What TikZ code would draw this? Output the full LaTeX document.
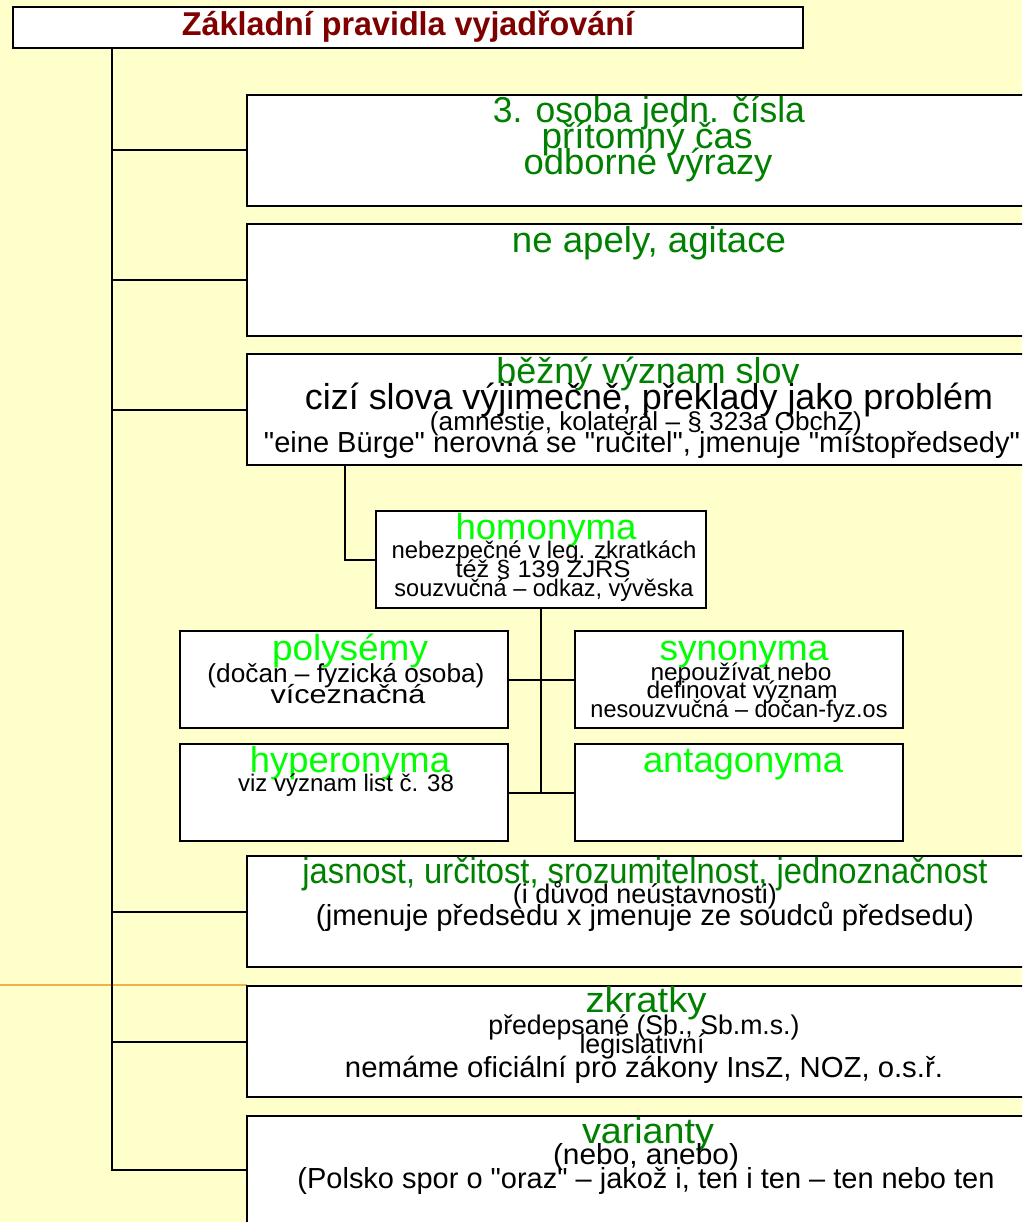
\documentclass[tikz,border=0pt]{standalone}
\usepackage{fontspec}
\setmainfont{Liberation Sans}
\usepackage{graphicx}
\definecolor{bgy}{HTML}{FFFFCC}
\definecolor{gD}{HTML}{008000}
\definecolor{gB}{HTML}{00FF00}
\definecolor{dR}{HTML}{800000}
\definecolor{orl}{HTML}{F4B040}
\newcommand\fitw[2]{\resizebox{#1pt}{\height}{#2}}
\newcommand\qq{\XeTeXglyph\XeTeXcharglyph"22\relax}
\tikzset{
  box/.style={draw=black, line width=2pt, fill=white, rectangle, inner sep=0pt},
  conn/.style={draw=black, line width=2pt},
  txt/.style={anchor=base, inner sep=0pt},
  fs/.style={font=\fontsize{#1}{#1}\selectfont},
}
\begin{document}
\begin{tikzpicture}[x=1pt,y=-1pt]
\useasboundingbox (0,0) rectangle (1022,1222);
\fill[bgy] (0,0) rectangle (1022,1222);
\clip (0,0) rectangle (1022,1222);
% orange divider
\draw[orl, line width=2pt] (0,985) -- (247,985);
% title
\node[box, minimum width=790pt, minimum height=41pt] (title) at (408,27.5) {};
% main boxes
\node[box, minimum width=802pt, minimum height=111pt] (b1) at (648,150.5) {};
\node[box, minimum width=802pt, minimum height=111pt] (b2) at (648,280) {};
\node[box, minimum width=802pt, minimum height=111pt] (b3) at (648,409.5) {};
\node[box, minimum width=802pt, minimum height=111pt] (b4) at (648,911.5) {};
\node[box, minimum width=802pt, minimum height=111pt] (b5) at (648,1041.5) {};
\node[box, minimum width=802pt, minimum height=108pt] (b6) at (648,1170) {};
% sub boxes
\node[box, minimum width=330pt, minimum height=97pt] (hom) at (541,559.5) {};
\node[box, minimum width=328pt, minimum height=97pt] (pol) at (344,679.5) {};
\node[box, minimum width=328pt, minimum height=97pt] (syn) at (739,679.5) {};
\node[box, minimum width=328pt, minimum height=97pt] (hyp) at (344,792.5) {};
\node[box, minimum width=328pt, minimum height=97pt] (ant) at (739,792.5) {};
% connectors
\coordinate (tr) at (112,48);
\draw[conn] (tr) |- (b6.west);
\draw[conn] (tr |- b1.west) -- (b1.west);
\draw[conn] (tr |- b2.west) -- (b2.west);
\draw[conn] (tr |- b3.west) -- (b3.west);
\draw[conn] (tr |- b4.west) -- (b4.west);
\draw[conn] (tr |- b5.west) -- (b5.west);
\coordinate (h0) at (345,465);
\draw[conn] (h0) |- (hom.west);
\draw[conn] (hom.south) -- (hom.south |- hyp.east);
\draw[conn] (pol.east) -- (syn.west);
\draw[conn] (hyp.east) -- (ant.west);
% title text
\node[txt, text=dR, font=\fontsize{33}{33}\selectfont\bfseries] (tt) at (408,36) {\fitw{452}{Základní pravidla vyjadřování}};
% box 1
\node[txt, fs=36, text=gD] (b1a) at (649,123) {\fitw{312}{3. osoba jedn. čísla}};
\node[txt, fs=36, text=gD] (b1b) at (647,149) {\fitw{211}{přítomný čas}};
\node[txt, fs=36, text=gD] (b1c) at (648,175) {\fitw{249}{odborné výrazy}};
% box 2
\node[txt, fs=36, text=gD] (b2a) at (649,253) {\fitw{274}{ne apely, agitace}};
% box 3
\node[txt, fs=36, text=gD] (b3a) at (648,383) {\fitw{303}{běžný význam slov}};
\node[txt, fs=36] (b3b) at (649,409) {\fitw{688}{cizí slova výjimečně, překlady jako problém}};
\node[txt, fs=26] (b3c) at (646,430) {\fitw{432}{(amnestie, kolaterál – § 323a ObchZ)}};
\node[txt, fs=29] (b3d) at (642,452) {\fitw{756}{\qq eine Bürge\qq{} nerovná se \qq ručitel\qq, jmenuje \qq místopředsedy\qq}};
% homonyma
\node[txt, fs=36, text=gB] (hma) at (546,539) {\fitw{181}{homonyma}};
\node[txt, fs=24] (hmb) at (544,558) {\fitw{305}{nebezpečné v leg. zkratkách}};
\node[txt, fs=24] (hmc) at (543,577) {\fitw{175}{též § 139 ZJŘS}};
\node[txt, fs=24] (hmd) at (544,596) {\fitw{299}{souzvučná – odkaz, vývěska}};
% polysemy
\node[txt, fs=36, text=gB] (pla) at (350,660) {\fitw{156}{polysémy}};
\node[txt, fs=26] (plb) at (346,682) {\fitw{277}{(dočan – fyzická osoba)}};
\node[txt, fs=26] (plc) at (348,703) {\fitw{155}{víceznačná}};
% synonyma
\node[txt, fs=36, text=gB] (sya) at (744,660) {\fitw{169}{synonyma}};
\node[txt, fs=24] (syb) at (741,680) {\fitw{181}{nepoužívat nebo}};
\node[txt, fs=24] (syc) at (742,698) {\fitw{191}{definovat význam}};
\node[txt, fs=24] (syd) at (739,717) {\fitw{297}{nesouzvučná – dočan-fyz.os}};
% hyperonyma
\node[txt, fs=36, text=gB] (hya) at (350,772) {\fitw{200}{hyperonyma}};
\node[txt, fs=24] (hyb) at (346,791) {\fitw{216}{viz význam list č. 38}};
% antagonyma
\node[txt, fs=36, text=gB] (ana) at (743,772) {\fitw{200}{antagonyma}};
% box 4
\node[txt, fs=36, text=gD] (b4a) at (645,883) {\fitw{685}{jasnost, určitost, srozumitelnost, jednoznačnost}};
\node[txt, fs=27] (b4b) at (645,903) {\fitw{264}{(i důvod neústavnosti)}};
\node[txt, fs=29] (b4c) at (645,925) {\fitw{658}{(jmenuje předsedu x jmenuje ze soudců předsedu)}};
% box 5
\node[txt, fs=36, text=gD] (b5a) at (646,1012) {\fitw{121}{zkratky}};
\node[txt, fs=27] (b5b) at (644,1034) {\fitw{311}{předepsané (Sb., Sb.m.s.)}};
\node[txt, fs=27] (b5c) at (642,1053) {\fitw{125}{legislativní}};
\node[txt, fs=29] (b5d) at (644,1077) {\fitw{598}{nemáme oficiální pro zákony InsZ, NOZ, o.s.ř.}};
% box 6
\node[txt, fs=36, text=gD] (b6a) at (648,1143) {\fitw{132}{varianty}};
\node[txt, fs=29] (b6b) at (646,1164) {\fitw{186}{(nebo, anebo)}};
\node[txt, fs=29] (b6c) at (646,1188) {\fitw{697}{(Polsko spor o \qq oraz\qq{} – jakož i, ten i ten – ten nebo ten}};
\end{tikzpicture}
\end{document}
